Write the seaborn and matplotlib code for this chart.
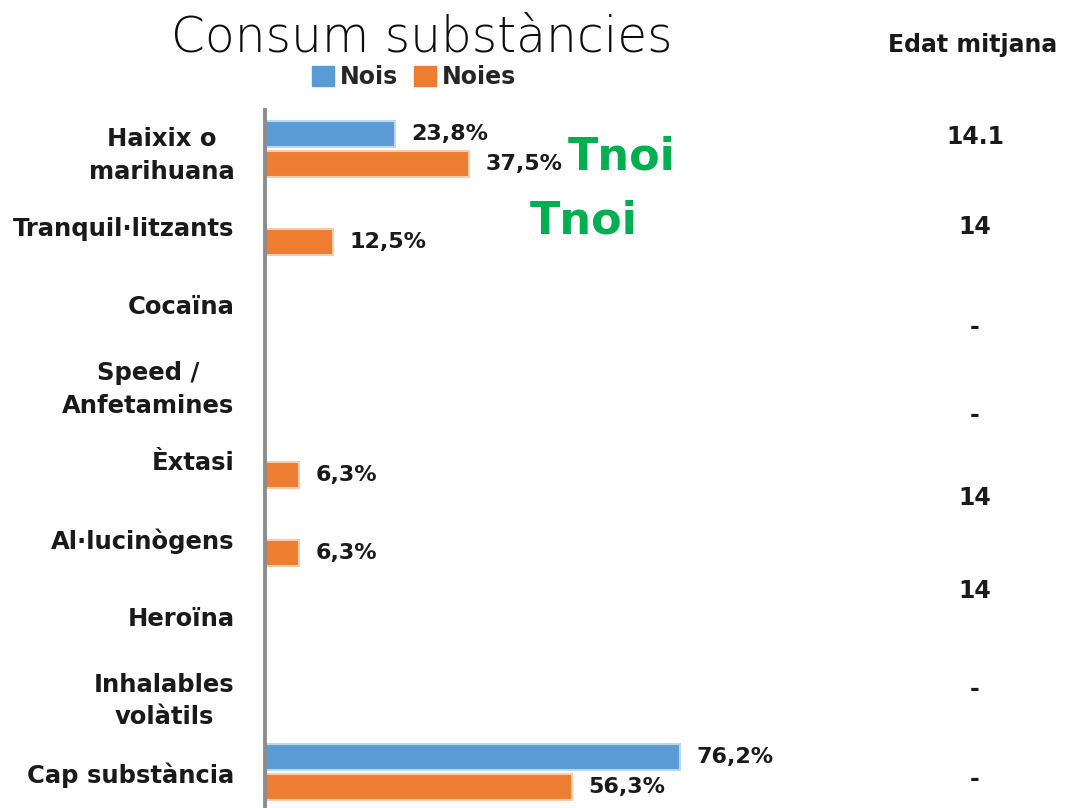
import pandas as pd
import numpy as np
import matplotlib.pyplot as plt
import matplotlib.transforms as mtransforms
import seaborn as sns

# Data
categories = ['Haixix o\nmarihuana', 'Tranquil·litzants', 'Cocaïna', 'Speed /\nAnfetamines',
              'Èxtasi', 'Al·lucinògens', 'Heroïna', 'Inhalables\nvolàtils', 'Cap substància']
nois = [23.8, 0, 0, 0, 0, 0, 0, 0, 76.2]
noies = [37.5, 12.5, 0, 0, 6.3, 6.3, 0, 0, 56.3]
groups = ['Nois', 'Noies']
edat_labels = ['14.1', '14', '-', '-', '14', '14', '-', '-']

# Layout of the stray text (in category units)
edat_y = [-0.15, 1.0, 2.28, 3.41, 4.48, 5.67, 6.93, 8.08]
tnoi_pos = [(55.6, 0.1), (48.6, 0.93)]

colors = {'Nois': '#5B9BD5', 'Noies': '#ED7D31'}
edges = {'Nois': '#BDD7EE', 'Noies': '#F8CBAD'}

df = pd.DataFrame({
    'substancia': categories * 2,
    'grup': ['Nois'] * len(categories) + ['Noies'] * len(categories),
    'valor': nois + noies,
})

sns.set_style('white')
plt.rcParams['font.family'] = ['DejaVu Sans']
dark = '#1a1a1a'

fig = plt.figure(figsize=(10.65, 8.08), dpi=100)
ax = fig.add_axes([265 / 1065, -0.004, 545 / 1065, 0.868])

sns.barplot(data=df, y='substancia', x='valor', hue='grup', hue_order=groups,
            palette=colors, saturation=1, orient='h', width=0.76, gap=0.12,
            legend=False, ax=ax)

ax.set_xlim(0, 100)
ax.set_ylim(len(categories) - 0.5, -0.5)

# light edge glow on visible bars + value labels
for cont, g in zip(ax.containers, groups):
    for p in cont:
        if p.get_width() > 0:
            p.set_edgecolor(edges[g])
            p.set_linewidth(1.5)
    labels = [f'{v:.1f}%'.replace('.', ',') if v > 0 else '' for v in cont.datavalues]
    ax.bar_label(cont, labels=labels, padding=12, fontsize=16, fontweight='bold', color=dark)

ax.set_xlabel('')
ax.set_ylabel('')
ax.set_xticks([])
ax.tick_params(axis='y', length=0, pad=22)
for lbl in ax.get_yticklabels():
    lbl.set_fontsize(17.5)
    lbl.set_multialignment('center')
    lbl.set_linespacing(1.45)
    lbl.set_color(dark)
    lbl.set_fontweight('bold')

sns.despine(ax=ax, top=True, right=True, bottom=True, left=False)
ax.spines['left'].set_color('#8c8c8c')
ax.spines['left'].set_linewidth(2.8)

# title and legend
fig.text(422 / 1065, 1 - 37 / 808, 'Consum substàncies', ha='center', va='center',
         fontsize=35, fontweight='light', color='#0d0d0d')
handles = [plt.Rectangle((0, 0), 1, 1, color=colors[g]) for g in groups]
fig.legend(handles, groups, loc='center', bbox_to_anchor=(414 / 1065, 1 - 77 / 808),
           ncol=2, frameon=False, handlelength=0.9, handleheight=0.9,
           handletextpad=0.25, columnspacing=0.7,
           prop={'weight': 'bold', 'size': 17})

# "Edat mitjana" column
fig.text(973 / 1065, 1 - 45 / 808, 'Edat mitjana', ha='center', va='center',
         fontsize=17, fontweight='bold', color=dark)
trans = mtransforms.blended_transform_factory(fig.transFigure, ax.transData)
for lab, yy in zip(edat_labels, edat_y):
    ax.text(975 / 1065, yy, lab, transform=trans, ha='center', va='center',
            fontsize=17, fontweight='bold', color=dark, clip_on=False)

# stray "Tnoi" boxes
for x, y in tnoi_pos:
    ax.text(x, y, 'Tnoi', ha='left', va='center', fontsize=32, fontweight='bold',
            color='#00B050', clip_on=False)

fig.savefig('out.png', dpi=100)
